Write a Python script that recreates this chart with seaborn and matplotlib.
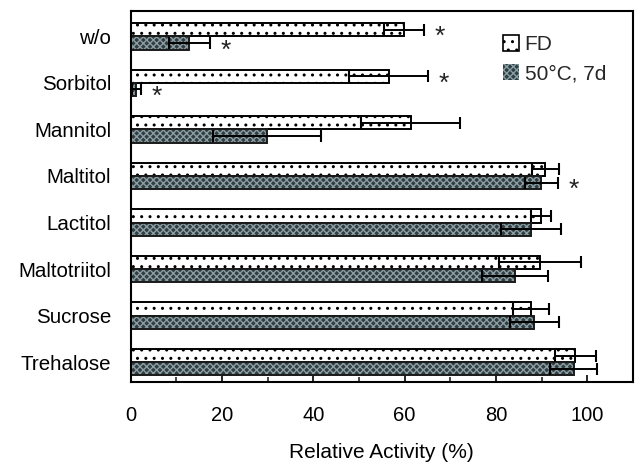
import numpy as np
import pandas as pd
import matplotlib
matplotlib.use('Agg')
import matplotlib.pyplot as plt
from matplotlib.patches import Rectangle
from matplotlib.ticker import MultipleLocator
import seaborn as sns

sns.set_theme(style='white')
plt.rcParams['font.family'] = ['Liberation Sans', 'DejaVu Sans']
plt.rcParams['hatch.linewidth'] = 1.0

samples = ['w/o', 'Sorbitol', 'Mannitol', 'Maltitol', 'Lactitol',
           'Maltotriitol', 'Sucrose', 'Trehalose']
conditions = ['FD', '50°C, 7d']
fd_mean = [59.8, 56.5, 61.3, 90.8, 89.9, 89.6, 87.7, 97.4]
fd_err = [4.4, 8.6, 10.8, 2.9, 2.2, 9.0, 4.0, 4.4]
heat_mean = [12.9, 1.3, 29.8, 89.9, 87.6, 84.2, 88.4, 97.0]
heat_err = [4.4, 1.0, 11.8, 3.6, 6.6, 7.3, 5.4, 5.1]
fd_star = [True, True, False, False, False, False, False, False]
heat_star = [True, True, False, True, False, False, False, False]

dark = '#2e3f44'
pattern = '#8a9ea3'

df = pd.concat([
    pd.DataFrame({'sample': samples, 'activity': fd_mean, 'condition': conditions[0]}),
    pd.DataFrame({'sample': samples, 'activity': heat_mean, 'condition': conditions[1]}),
])

fig = plt.figure(figsize=(6.4, 4.65), dpi=100)
ax = fig.add_axes([0.204, 0.178, 0.785, 0.798])

sns.barplot(data=df, x='activity', y='sample', hue='condition', orient='h',
            order=samples, hue_order=conditions, width=0.57, gap=0,
            errorbar=None, palette=['white', dark], edgecolor='black',
            linewidth=1.4, legend=False, ax=ax)

# hatching: dots for FD, light crosshatch on dark bars
for p in ax.containers[0]:
    p.set_hatch('..')
for p in ax.containers[1]:
    p.set_hatch('xxxxx')
    p.set_edgecolor(pattern)
    p.set_linewidth(0)
    ax.add_patch(Rectangle(p.get_xy(), p.get_width(), p.get_height(),
                           fill=False, edgecolor='#1a1a1a', linewidth=1.4, zorder=p.get_zorder() + 0.1))

# error bars and significance marks
for cont, means, errs, stars in [(ax.containers[0], fd_mean, fd_err, fd_star),
                                 (ax.containers[1], heat_mean, heat_err, heat_star)]:
    ys = [p.get_y() + p.get_height() / 2 for p in cont]
    ax.errorbar(means, ys, xerr=errs, fmt='none', ecolor='black',
                elinewidth=1.4, capsize=4.5, capthick=1.5, zorder=5)
    for m, e, y, s in zip(means, errs, ys, stars):
        if s:
            ax.text(m + e + 2.3, y + 0.16, '*', fontsize=19, ha='left', va='center', color='#222222')

ax.set_xlim(0, 110)
ax.set_ylim(7.43, -0.54)
ax.set_xticks([0, 20, 40, 60, 80, 100])
ax.xaxis.set_minor_locator(MultipleLocator(10))
ax.tick_params(axis='x', which='major', direction='in', length=5, width=1.2,
               bottom=True, top=False, labelsize=14.5, pad=17, colors='black')
ax.tick_params(axis='x', which='minor', direction='in', length=3.5, width=1.2,
               bottom=True, top=False)
ax.tick_params(axis='y', length=0, labelsize=14.8, pad=14, colors='black')
for s in ax.spines.values():
    s.set_visible(True)
    s.set_color('black')
    s.set_linewidth(1.5)

ax.set_xlabel('Relative Activity (%)', fontsize=15, labelpad=13, color='black')
ax.set_ylabel('')

handles = [Rectangle((0, 0), 1, 1, facecolor='white', edgecolor='black', hatch='..', linewidth=1.2),
           Rectangle((0, 0), 1, 1, facecolor=dark, edgecolor=pattern, hatch='xxxxx', linewidth=0)]
ax.legend(handles, conditions, loc='upper left', bbox_to_anchor=(0.72, 0.965),
          frameon=False, fontsize=15, handlelength=0.8, handleheight=0.8,
          handletextpad=0.25, labelspacing=0.5, borderpad=0)

fig.savefig('out.png', dpi=100)
